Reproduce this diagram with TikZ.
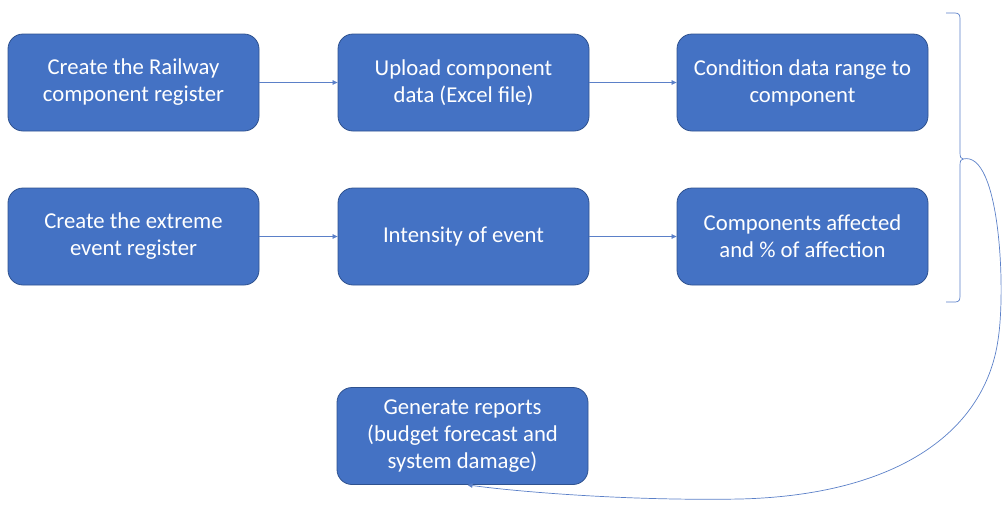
\documentclass[tikz,border=0pt]{standalone}
\usepackage{fontspec}
\setmainfont{Carlito}
\usetikzlibrary{arrows.meta}
\definecolor{boxblue}{HTML}{4472C4}
\definecolor{boxedge}{HTML}{2F528F}
\definecolor{linkblue}{HTML}{5B80C8}
\begin{document}
\begin{tikzpicture}[x=1pt,y=-1pt,
  stepbox/.style={draw=boxedge, line width=0.8pt, fill=boxblue, rounded corners=15pt,
    minimum width=251pt, minimum height=97pt, text=white, align=center,
    font=\fontsize{22.7}{27}\selectfont, inner sep=0pt},
  link/.style={draw=linkblue, line width=0.7pt, -{Triangle[length=5pt,width=4.5pt]}}]
  \useasboundingbox (0,0) rectangle (1003,504);
  % first row
  \node[stepbox] (rail) at (133.5,82.5) {Create the Railway\\component register};
  \node[stepbox] (upload) at (463.5,82.5) {Upload component\\data (Excel file)};
  \node[stepbox] (range) at (802.5,82.5) {Condition data range to\\component};
  % second row
  \node[stepbox] (event) at (133.5,236.5) {Create the extreme\\event register};
  \node[stepbox] (intensity) at (463.5,236.5) {Intensity of event};
  \node[stepbox] (affected) at (802.5,236.5) {Components affected\\and \% of affection};
  % report
  \node[stepbox] (report) at (462.5,436) {Generate reports\\(budget forecast and\\system damage)};
  % row connectors
  \draw[link] (rail) -- (upload);
  \draw[link] (upload) -- (range);
  \draw[link] (event) -- (intensity);
  \draw[link] (intensity) -- (affected);
  % brace grouping both rows
  \coordinate (tip) at (963,159);
  \draw[linkblue, line width=0.7pt]
    (946,13) -- (955,13) .. controls (959,13) and (960,15) .. (960,19)
    -- (960,153) .. controls (960,157) and (961,159) .. (tip)
    .. controls (961,159) and (960,161) .. (960,165)
    -- (960,296) .. controls (960,300) and (959,302) .. (955,302) -- (946,302);
  % curved connector from the brace to the report box
  \draw[link] (tip) .. controls (1000,150) and (1006,290) .. (998,340)
    .. controls (985,430) and (900,495) .. (740,499)
    .. controls (630,501) and (520,492) .. ([xshift=5pt]report.south);
\end{tikzpicture}
\end{document}
